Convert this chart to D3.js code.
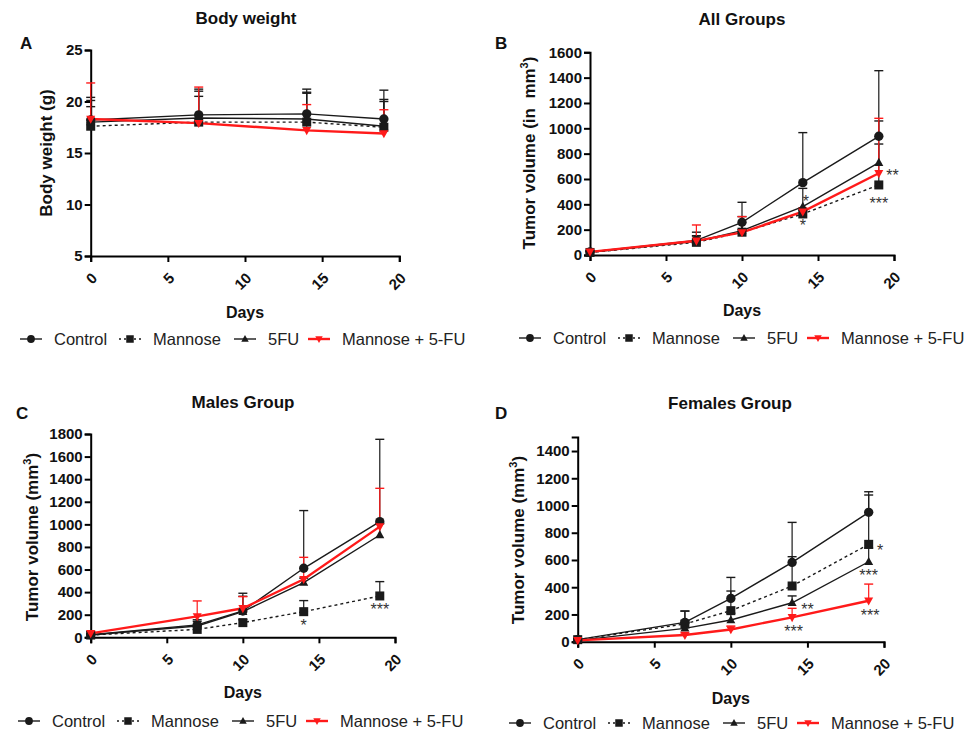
<!DOCTYPE html>
<html>
<head>
<meta charset="utf-8">
<script src="https://cdn.jsdelivr.net/npm/d3@7"></script>
<style>
  html, body { margin: 0; padding: 0; background: #ffffff; }
</style>
</head>
<body>
<div id="chart"></div>
<script>
  "use strict";

  // ---- data ----
  const seriesNames = ["Control", "Mannose", "5FU", "Mannose + 5-FU"];
  const daysBW = [0, 7, 14, 19];
  const daysTV = [0, 7, 10, 14, 19];

  // A: body weight (g)
  const bwControl = [18.2, 18.7, 18.8, 18.3];
  const bwControlSd = [2.2, 2.5, 2.4, 2.8];
  const bwMannose = [17.6, 18.0, 18.0, 17.5];
  const bwMannoseSd = [2.5, 3.0, 2.9, 2.7];
  const bw5FU = [18.0, 18.4, 18.3, 17.6];
  const bw5FUSd = [1.5, 2.1, 2.5, 2.4];
  const bwCombo = [18.3, 17.9, 17.2, 16.9];
  const bwComboSd = [3.5, 3.5, 2.5, 2.3];

  // B: all groups, tumor volume (mm3)
  const allControl = [25, 115, 258, 571, 937];
  const allControlSd = [10, 65, 158, 395, 518];
  const allMannose = [20, 100, 180, 324, 553];
  const allMannoseSd = [8, 50, 20, 30, 323];
  const all5FU = [22, 108, 192, 382, 729];
  const all5FUSd = [8, 44, 111, 144, 329];
  const allCombo = [25, 112, 178, 342, 645];
  const allComboSd = [10, 125, 125, 30, 434];

  // C: males
  const mControl = [22, 110, 233, 611, 1024];
  const mControlSd = [10, 45, 157, 511, 729];
  const mMannose = [20, 70, 130, 227, 366];
  const mMannoseSd = [8, 20, 25, 98, 127];
  const m5FU = [20, 100, 227, 484, 906];
  const m5FUSd = [8, 40, 136, 40, 100];
  const mCombo = [35, 185, 257, 514, 980];
  const mComboSd = [15, 137, 103, 194, 339];

  // D: females
  const fControl = [15, 142, 318, 582, 950];
  const fControlSd = [5, 83, 154, 294, 151];
  const fMannose = [15, 130, 228, 409, 715];
  const fMannoseSd = [5, 95, 144, 215, 362];
  const f5FU = [10, 98, 159, 286, 587];
  const f5FUSd = [5, 40, 50, 50, 100];
  const fCombo = [10, 49, 90, 179, 301];
  const fComboSd = [5, 15, 25, 66, 122];

  // significance marks: [day, value, label]
  const starsAll = [[14.2, 440, "*"], [14.0, 255, "*"], [19.9, 650, "**"], [19.0, 429, "***"]];
  const starsMales = [[14.0, 124, "*"], [19.0, 266, "***"]];
  const starsFemales = [[19.75, 686, "*"], [19.0, 502, "***"], [15.0, 257, "**"], [14.1, 95, "***"], [19.1, 213, "***"]];

  const xTicks = [0, 5, 10, 15, 20];

  // ---- drawing ----
  const W = 967, H = 734;
  const FONT = "Arial, 'Liberation Sans', sans-serif";
  const RED = "#ff1a1a";
  const INK = "#1a1a1a";

  const svg = d3.select("#chart").append("svg")
    .attr("width", W).attr("height", H)
    .style("font-family", FONT);

  // style per series: Control, Mannose, 5FU, Mannose + 5-FU
  const styles = [
    { color: INK, width: 1.4, dash: null, shape: "circle" },
    { color: INK, width: 1.4, dash: "3,3", shape: "square" },
    { color: INK, width: 1.4, dash: null, shape: "triangle" },
    { color: RED, width: 2.4, dash: null, shape: "down" }
  ];

  function marker(g, shape, x, y, s, color) {
    if (shape === "circle") {
      g.append("circle").attr("cx", x).attr("cy", y).attr("r", s * 0.52).attr("fill", color);
    } else if (shape === "square") {
      g.append("rect").attr("x", x - s / 2).attr("y", y - s / 2).attr("width", s).attr("height", s).attr("fill", color);
    } else if (shape === "triangle") {
      const h = s * 0.9;
      g.append("path").attr("d", `M${x},${y - h * 0.6}L${x + s / 2},${y + h * 0.4}L${x - s / 2},${y + h * 0.4}Z`).attr("fill", color);
    } else {
      const h = s * 0.9;
      g.append("path").attr("d", `M${x},${y + h * 0.6}L${x + s / 2},${y - h * 0.4}L${x - s / 2},${y - h * 0.4}Z`).attr("fill", color);
    }
  }

  function drawPanel(cfg) {
    const g = svg.append("g");
    const x = d3.scaleLinear().domain([0, 20]).range([cfg.x0, cfg.x1]);
    const y = d3.scaleLinear().domain(cfg.yDomain).range([cfg.yBottom, cfg.yTop]);

    // title + letter
    g.append("text").attr("x", cfg.titleX).attr("y", cfg.titleY)
      .attr("text-anchor", "middle").attr("font-weight", "bold").attr("font-size", "17px")
      .attr("fill", "#111").text(cfg.title);
    g.append("text").attr("x", cfg.letterX).attr("y", cfg.letterY)
      .attr("font-weight", "bold").attr("font-size", "17px").attr("fill", "#111").text(cfg.letter);

    // axes
    const yAxis = g.append("g").attr("transform", `translate(${cfg.x0},0)`)
      .call(d3.axisLeft(y).tickValues(cfg.yTicks).tickFormat(d3.format("d"))
        .tickSizeOuter(0).tickSize(6).tickPadding(2));
    const xAxis = g.append("g").attr("transform", `translate(0,${cfg.yBottom})`)
      .call(d3.axisBottom(x).tickValues(xTicks).tickFormat(d3.format("d")).tickSizeOuter(0).tickSize(6));
    [yAxis, xAxis].forEach(a => {
      a.select(".domain").attr("stroke", "#000").attr("stroke-width", 2);
      a.selectAll(".tick line").attr("stroke", "#000").attr("stroke-width", 2);
      a.selectAll(".tick text").attr("font-family", FONT).attr("font-weight", "bold")
        .attr("font-size", "15px").attr("fill", "#111");
    });
    xAxis.selectAll(".tick text")
      .attr("text-anchor", "end").attr("y", 0).attr("dy", 0)
      .attr("transform", "translate(7,23) rotate(-45)");

    // axis titles
    g.append("text").attr("x", (cfg.x0 + cfg.x1) / 2).attr("y", cfg.daysY)
      .attr("text-anchor", "middle").attr("font-weight", "bold").attr("font-size", "16px")
      .attr("fill", "#111").text("Days");
    const yl = g.append("text")
      .attr("transform", `translate(${cfg.yLabelX},${cfg.yLabelY}) rotate(-90)`)
      .attr("text-anchor", "middle").attr("font-weight", "bold").attr("font-size", "17px")
      .attr("fill", "#111").style("white-space", "pre");
    yl.append("tspan").text(cfg.yLabel);
    if (cfg.yLabelSup) {
      yl.append("tspan").attr("font-size", "11px").attr("dy", "-7").text("3");
      yl.append("tspan").attr("dy", "7").text(")");
    }

    const line = d3.line().x(d => x(d[0])).y(d => y(d[1]));

    // error bars (upper only)
    cfg.series.forEach((s, i) => {
      const st = styles[i];
      s.mean.forEach((m, k) => {
        const cx = x(cfg.days[k]);
        const top = y(m + s.sd[k]);
        g.append("line").attr("x1", cx).attr("x2", cx).attr("y1", y(m)).attr("y2", top)
          .attr("stroke", st.color).attr("stroke-width", 1.2);
        g.append("line").attr("x1", cx - 4.5).attr("x2", cx + 4.5).attr("y1", top).attr("y2", top)
          .attr("stroke", st.color).attr("stroke-width", 1.4);
      });
    });

    // lines
    cfg.series.forEach((s, i) => {
      const st = styles[i];
      g.append("path").datum(s.mean.map((m, k) => [cfg.days[k], m]))
        .attr("d", line).attr("fill", "none")
        .attr("stroke", st.color).attr("stroke-width", st.width)
        .attr("stroke-dasharray", st.dash);
    });

    // markers
    cfg.series.forEach((s, i) => {
      const st = styles[i];
      s.mean.forEach((m, k) => {
        marker(g, st.shape, x(cfg.days[k]), y(m), 9, st.color);
      });
    });

    // significance stars
    (cfg.stars || []).forEach(([d, v, lbl]) => {
      g.append("text").attr("x", x(d)).attr("y", y(v) + 8)
        .attr("text-anchor", "middle").attr("font-size", "16px").attr("fill", "#333")
        .text(lbl);
    });

    drawLegend(cfg.legendX, cfg.legendY);
  }

  function drawLegend(lx, ly) {
    const g = svg.append("g").attr("transform", `translate(${lx},${ly})`);
    const offsets = [0, 99, 214, 288];
    seriesNames.forEach((name, i) => {
      const st = styles[i];
      const ox = offsets[i];
      g.append("line").attr("x1", ox).attr("x2", ox + 22).attr("y1", 0).attr("y2", 0)
        .attr("stroke", st.color).attr("stroke-width", st.color === RED ? 2.4 : 1.4)
        .attr("stroke-dasharray", st.dash ? "2,3" : null);
      marker(g, st.shape, ox + 11, 0, 7.5, st.color);
      g.append("text").attr("x", ox + 34).attr("y", 6)
        .attr("font-size", "16.5px").attr("fill", "#222").text(name);
    });
  }

  drawPanel({
    title: "Body weight", titleX: 246, titleY: 24, letter: "A", letterX: 20, letterY: 49,
    x0: 90.7, x1: 399.3, yTop: 50, yBottom: 256, yDomain: [5, 25], yTicks: [5, 10, 15, 20, 25],
    yLabel: "Body weight (g)", yLabelSup: false, yLabelX: 52, yLabelY: 153, daysY: 318,
    days: daysBW,
    series: [
      { mean: bwControl, sd: bwControlSd },
      { mean: bwMannose, sd: bwMannoseSd },
      { mean: bw5FU, sd: bw5FUSd },
      { mean: bwCombo, sd: bwComboSd }
    ],
    legendX: 20, legendY: 339
  });

  drawPanel({
    title: "All Groups", titleX: 742, titleY: 25, letter: "B", letterX: 495, letterY: 49,
    x0: 590, x1: 894, yTop: 52.3, yBottom: 255, yDomain: [0, 1600],
    yTicks: [0, 200, 400, 600, 800, 1000, 1200, 1400, 1600],
    yLabel: "Tumor volume (in  mm", yLabelSup: true, yLabelX: 535, yLabelY: 153, daysY: 316,
    days: daysTV,
    series: [
      { mean: allControl, sd: allControlSd },
      { mean: allMannose, sd: allMannoseSd },
      { mean: all5FU, sd: all5FUSd },
      { mean: allCombo, sd: allComboSd }
    ],
    stars: starsAll,
    legendX: 519, legendY: 338
  });

  drawPanel({
    title: "Males Group", titleX: 243, titleY: 408, letter: "C", letterX: 16, letterY: 419,
    x0: 90.7, x1: 395, yTop: 434, yBottom: 637.3, yDomain: [0, 1800],
    yTicks: [0, 200, 400, 600, 800, 1000, 1200, 1400, 1600, 1800],
    yLabel: "Tumor volume (mm", yLabelSup: true, yLabelX: 38, yLabelY: 537, daysY: 698,
    days: daysTV,
    series: [
      { mean: mControl, sd: mControlSd },
      { mean: mMannose, sd: mMannoseSd },
      { mean: m5FU, sd: m5FUSd },
      { mean: mCombo, sd: mComboSd }
    ],
    stars: starsMales,
    legendX: 18, legendY: 721
  });

  drawPanel({
    title: "Females Group", titleX: 730, titleY: 409, letter: "D", letterX: 495, letterY: 419,
    x0: 577.7, x1: 884, yTop: 437, yBottom: 641.7, yDomain: [0, 1503],
    yTicks: [0, 200, 400, 600, 800, 1000, 1200, 1400],
    yLabel: "Tumor volume (mm", yLabelSup: true, yLabelX: 524, yLabelY: 540, daysY: 704,
    days: daysTV,
    series: [
      { mean: fControl, sd: fControlSd },
      { mean: fMannose, sd: fMannoseSd },
      { mean: f5FU, sd: f5FUSd },
      { mean: fCombo, sd: fComboSd }
    ],
    stars: starsFemales,
    legendX: 509, legendY: 723
  });
</script>
</body>
</html>
